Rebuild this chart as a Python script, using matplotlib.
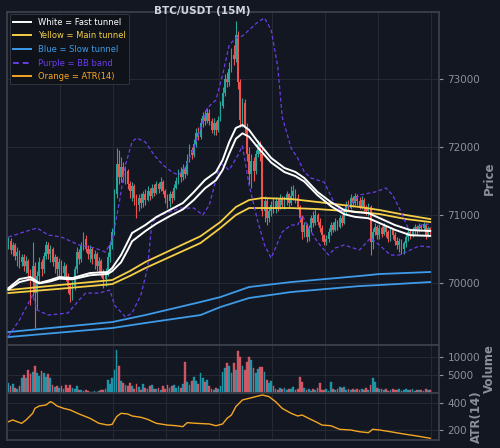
import numpy as np
import matplotlib
matplotlib.use("Agg")
import matplotlib.pyplot as plt
from matplotlib.lines import Line2D

# ---- candles (15M), open of first bar, then close / high / low
first_open = 70550
close = [
    70620, 70480, 70560, 70400, 70450, 70300, 70380, 70250, 70320, 70150,
    70050, 70250, 69850, 70100, 70300, 70200, 70400, 70550, 70420, 70500,
    70300, 70380, 70200, 70300, 70150, 70250, 70100, 69950, 69820, 69950,
    70200, 70450, 70350, 70550, 70650, 70500, 70420, 70500, 70350, 70420,
    70250, 70320, 70150, 70050, 70150, 70380, 70550, 70750, 71300, 71750,
    71550, 71700, 71550, 71650, 71450, 71350, 71420, 71250, 71150, 71250,
    71180, 71300, 71220, 71350, 71280, 71400, 71320, 71450, 71380, 71480,
    71350, 71250, 71200, 71300, 71250, 71400, 71500, 71620, 71550, 71680,
    71600, 71800, 71950, 71880, 72050, 72200, 72150, 72350, 72450, 72380,
    72500, 72380, 72250, 72350, 72250, 72400, 72600, 72800, 73000, 72950,
    73150, 73350, 73300, 73650, 72950, 72400, 72650, 72300, 71900, 71600,
    71800, 71650, 71900, 72050, 71900, 71050, 71200, 70950, 71050, 71150,
    71080, 71200, 71120, 71250, 71150, 71220, 71300, 71180, 71280, 71350,
    71250, 71120, 70950, 70750, 70850, 70680, 70800, 70950, 70880, 71000,
    70900, 70800, 70700, 70600, 70650, 70750, 70850, 70780, 70900, 70820,
    70950, 70880, 71050, 71150, 71100, 71250, 71180, 71270, 71200, 71120,
    71220, 71100, 71050, 71120, 70600, 70750, 70820, 70700, 70800, 70720,
    70830, 70750, 70650, 70780, 70700, 70620, 70560, 70620, 70500, 70580,
    70680, 70750, 70700, 70780, 70820, 70760, 70840, 70800, 70860, 70700,
    70800, 70740]
high = [
    70680, 70660, 70600, 70580, 70520, 70480, 70430, 70420, 70400, 70350,
    70200, 70600, 70300, 70180, 70380, 70350, 70450, 70620, 70600, 70560,
    70520, 70420, 70400, 70360, 70330, 70300, 70280, 70150, 70000, 70020,
    70250, 70520, 70500, 70600, 70740, 70700, 70560, 70560, 70520, 70480,
    70450, 70380, 70350, 70200, 70220, 70450, 70620, 70800, 71380, 71980,
    71950, 71850, 71780, 71720, 71680, 71500, 71480, 71450, 71300, 71300,
    71320, 71350, 71380, 71420, 71400, 71450, 71460, 71500, 71480, 71560,
    71520, 71380, 71300, 71350, 71350, 71450, 71560, 71680, 71700, 71750,
    71720, 71900, 72050, 72000, 72120, 72280, 72300, 72420, 72520, 72550,
    72580, 72560, 72420, 72420, 72380, 72450, 72680, 72880, 73080, 73100,
    73250, 73450, 73500, 73850, 73700, 73000, 72720, 72700, 72350, 72000,
    71900, 71850, 71950, 72100, 72080, 71980, 71280, 71250, 71120, 71200,
    71250, 71260, 71250, 71300, 71280, 71280, 71350, 71320, 71420, 71440,
    71380, 71300, 71150, 71000, 70900, 70880, 70850, 71000, 71050, 71080,
    71020, 70950, 70850, 70720, 70700, 70800, 70900, 70900, 70950, 70930,
    71000, 71000, 71100, 71200, 71220, 71300, 71280, 71320, 71300, 71260,
    71280, 71250, 71150, 71180, 71150, 70800, 70880, 70850, 70860, 70830,
    70880, 70850, 70780, 70820, 70800, 70750, 70680, 70660, 70640, 70620,
    70720, 70800, 70790, 70820, 70870, 70850, 70880, 70870, 70900, 70880,
    70840, 70820]
low = [
    70500, 70420, 70400, 70330, 70250, 70220, 70250, 70180, 70150, 70050,
    69670, 69800, 69330, 69600, 70000, 70100, 70150, 70350, 70350, 70300,
    70250, 70150, 70100, 70080, 70080, 70050, 70020, 69850, 69720, 69750,
    69900, 70150, 70280, 70300, 70480, 70450, 70350, 70300, 70280, 70200,
    70180, 70150, 70080, 69920, 69950, 70100, 70300, 70500, 70700, 71250,
    71450, 71480, 71480, 71450, 71380, 71250, 71200, 71150, 70950, 71050,
    71100, 71120, 71150, 71200, 71220, 71250, 71280, 71300, 71320, 71350,
    71300, 71180, 71100, 71120, 71180, 71220, 71380, 71450, 71480, 71520,
    71540, 71580, 71780, 71820, 71850, 72000, 72100, 72120, 72300, 72320,
    72350, 72320, 72200, 72180, 72180, 72220, 72380, 72580, 72750, 72880,
    72900, 73100, 73200, 73250, 72850, 72300, 72300, 72200, 71800, 71450,
    71400, 71500, 71600, 71850, 71800, 70980, 70900, 70850, 70900, 70980,
    71020, 71030, 71050, 71080, 71100, 71080, 71150, 71120, 71150, 71220,
    71180, 71080, 70900, 70650, 70680, 70600, 70620, 70750, 70820, 70850,
    70850, 70750, 70620, 70550, 70560, 70600, 70700, 70740, 70760, 70780,
    70800, 70830, 70860, 71000, 71050, 71080, 71120, 71150, 71150, 71080,
    71080, 71050, 71000, 70980, 70410, 70500, 70700, 70650, 70650, 70680,
    70700, 70680, 70600, 70620, 70650, 70560, 70500, 70450, 70420, 70430,
    70520, 70620, 70650, 70680, 70720, 70720, 70740, 70760, 70770, 70650,
    70680, 70700]
volume = [
    2800, 1800, 2400, 1500, 1200, 2000,
    4200, 5000, 4000, 6400, 5200, 5800, 7300, 5600, 4800,
    6100, 5400, 4500, 5200, 4000,
    2300, 1600, 2000, 1400, 1800, 1200, 2100, 1500, 2200, 1300, 1000, 2000, 900,
    800, 600, 900, 500, 400, 300, 500, 400, 600, 700, 900, 1200,
    3600, 2500, 4000, 6400, 11800, 7300, 3300, 2800, 2300,
    1800, 2800, 2000, 1200, 2500, 1600, 900, 2400, 1500, 1000, 1800, 2200, 1200,
    1000, 1500, 900, 1800, 1200, 2200, 1400, 1900, 2300, 1300, 2000, 1500, 2600,
    8600, 3000, 2300, 3200, 4500, 3400, 2600, 5500, 4200, 3000, 3600,
    1800, 1200, 900, 1500, 1000, 1800,
    5900, 6800, 8200, 7400, 5600, 8200, 6400, 11600, 9800, 7300, 6200, 8400,
    10000, 9200, 6800, 5500, 6500, 7200, 7200, 5800, 3600, 2800, 3200,
    1800, 1200, 900, 1500, 1000, 1400, 800, 1200, 1000, 1600, 700, 1100,
    4300, 3000, 1400, 800, 1200, 600, 1000, 800, 1300, 2800, 900, 700, 1100, 600, 3000,
    1000, 800, 1200, 1600, 1400, 1700, 900, 1000, 700, 1200, 800, 1100, 900, 1000, 700, 1300, 900, 2200,
    4200, 3000, 1500, 1200, 1000, 900, 1200, 600, 800, 1100, 700, 900, 1000, 600,
    800, 1200, 700, 900, 1000, 600, 800, 700, 900, 600, 1000, 800, 700]

# ---- indicator readings (bar index -> value)
fast_idx = [0, 5, 10, 14, 19, 23, 29, 37, 45, 47, 51, 54, 56, 62, 67, 73, 79, 84, 89,
            94, 97, 100, 103, 106, 109, 113, 116, 119, 125, 130, 134, 140, 146, 152,
            157, 163, 168, 175, 182, 191]
fast_hi = [69920, 70054, 70084, 69996, 70040, 70084, 70069, 70143, 70158, 70217, 70408,
           70600, 70732, 70850, 70968, 71071, 71174, 71336, 71513, 71631, 71807, 72073,
           72279, 72323, 72250, 72073, 71955, 71837, 71690, 71631, 71542, 71336, 71189,
           71071, 71041, 71026, 70953, 70850, 70776, 70762]
fast_lo = [69900, 70010, 70050, 69990, 70020, 70060, 70050, 70110, 70130, 70170, 70300,
           70480, 70610, 70760, 70870, 70980, 71080, 71220, 71390, 71510, 71660, 71900,
           72120, 72200, 72150, 71990, 71880, 71770, 71630, 71570, 71490, 71290, 71130,
           71010, 70970, 70950, 70880, 70780, 70700, 70690]

main_idx = [0, 23, 47, 55, 62, 87, 96, 103, 109, 115, 128, 140, 159, 168, 180, 191]
main_hi = [69892, 69966, 70040, 70172, 70305, 70685, 70894, 71115, 71218, 71248, 71233,
           71189, 71115, 71071, 70997, 70938]
main_lo = [69848, 69910, 69980, 70100, 70216, 70585, 70806, 70997, 71100, 71100, 71100,
           71085, 71041, 71012, 70938, 70894]

slow_idx = [0, 47, 62, 87, 96, 109, 128, 159, 168, 191]
slow_hi = [69274, 69421, 69524, 69716, 69789, 69937, 70010, 70099, 70128, 70158]
slow_lo = [69200, 69333, 69407, 69524, 69642, 69775, 69863, 69951, 69966, 70010]

bbu_idx = [0, 7, 13, 18, 24, 32, 39, 44, 47, 50, 53, 56, 58, 62, 66, 70, 74, 77, 80, 84,
           88, 90, 94, 97, 100, 103, 106, 110, 113, 116, 119, 122, 124, 127, 128, 131,
           134, 137, 143, 148, 151, 156, 159, 166, 171, 174, 177, 181, 184, 187, 191]
bb_upper = [70673, 70747, 70806, 70703, 70673, 70556, 70512, 70452, 70629, 71145, 71734,
            72073, 72131, 72073, 71881, 71734, 71631, 71587, 71690, 71985, 72367, 72573,
            72691, 73059, 73501, 73604, 73634, 73752, 73840, 73899, 73722, 73177, 72440,
            72102, 71984, 71837, 71631, 71542, 71483, 71145, 71041, 71189, 71292, 71336,
            71395, 71292, 71100, 70806, 70747, 70850, 70865]
bbl_idx = [0, 5, 11, 13, 18, 27, 32, 35, 41, 46, 48, 53, 56, 60, 63, 65, 69, 78, 84, 88,
           91, 96, 100, 104, 106, 109, 113, 116, 119, 124, 128, 131, 133, 136, 140, 145,
           148, 152, 159, 164, 168, 173, 177, 182, 186, 191]
bb_lower = [69212, 69451, 69819, 69598, 69524, 69554, 69745, 69848, 69848, 69892, 69672,
            69495, 69554, 69819, 70216, 70894, 70997, 71100, 71100, 70997, 71145, 71763,
            71660, 71881, 72014, 71439, 70894, 70555, 70364, 70747, 70850, 70850, 70997,
            70806, 70600, 70408, 70511, 70555, 70482, 70658, 70555, 70408, 70408, 70482,
            70541, 70526]

atr_idx = [0, 2, 4, 6, 8, 11, 12, 14, 17, 19, 20, 22, 25, 28, 32, 37, 41, 45, 47, 49, 51,
           54, 56, 60, 63, 67, 72, 76, 79, 81, 85, 91, 94, 97, 99, 101, 103, 106, 109, 112,
           115, 118, 121, 124, 128, 131, 133, 136, 140, 142, 146, 150, 155, 159, 163, 165,
           168, 173, 179, 185, 191]
atr = [262, 275, 262, 250, 275, 325, 362, 380, 387, 412, 405, 380, 362, 350, 320, 287,
       250, 237, 242, 300, 325, 320, 305, 295, 280, 250, 237, 232, 225, 255, 250, 245,
       232, 245, 287, 312, 375, 425, 437, 450, 462, 450, 412, 362, 325, 305, 312, 287,
       255, 237, 232, 205, 200, 187, 180, 205, 200, 187, 170, 155, 138]

BG = '#131722'
UP, DOWN = '#26a69a', '#ef5350'
GRID = '#262a35'
SPINE = '#3b3f4a'
TXT = '#8b8f99'

fig = plt.figure(figsize=(5.0, 4.48), dpi=100, facecolor=BG)
L, W = 7.3 / 500, 431.7 / 500
ax = fig.add_axes([L, 103 / 448, W, 333 / 448])
axv = fig.add_axes([L, 55 / 448, W, 48 / 448], sharex=ax)
axa = fig.add_axes([L, 8 / 448, W, 47 / 448], sharex=ax)

n = len(close)
x = np.arange(n)
opens = np.array([first_open] + close[:-1])
c = np.array(close)
up = c >= opens
cols = np.where(up, UP, DOWN)

# candles
ax.vlines(x, low, high, colors=cols, lw=0.8, zorder=2)
ax.bar(x, np.maximum(np.abs(c - opens), 8), bottom=np.minimum(c, opens),
       width=0.8, color=cols, linewidth=0, zorder=3)

# tunnels / bands
ax.plot(slow_idx, slow_hi, color='#3d9be9', lw=1.3, zorder=4)
ax.plot(slow_idx, slow_lo, color='#3d9be9', lw=1.3, zorder=4)
ax.plot(main_idx, main_hi, color='#f5cf45', lw=1.3, zorder=4)
ax.plot(main_idx, main_lo, color='#f5cf45', lw=1.3, zorder=4)
ax.plot(fast_idx, fast_hi, color='white', lw=1.4, zorder=5)
ax.plot(fast_idx, fast_lo, color='white', lw=1.4, zorder=5)
ax.plot(bbu_idx, bb_upper, color='#6a3de8', lw=0.9, ls=(0, (3, 2)), zorder=4)
ax.plot(bbl_idx, bb_lower, color='#6a3de8', lw=0.9, ls=(0, (3, 2)), zorder=4)

# volume
vcols = np.where(up, '#1f9fb4', '#e05c6a')
axv.bar(x, volume, width=0.8, color=vcols, edgecolor=vcols, linewidth=0.3, alpha=0.9)

# ATR
axa.plot(atr_idx, atr, color='#f5a623', lw=1.0)

ax.set_xlim(-0.5, 195)
ax.set_ylim(69083, 73987)
axv.set_ylim(0, 13200)
axa.set_ylim(125, 477)
ax.set_yticks([70000, 71000, 72000, 73000])
axv.set_yticks([5000, 10000])
axa.set_yticks([200, 400])
ax.set_xticks(np.arange(1, 9) * 24 - 0.6)

for a, lab in ((ax, 'Price'), (axv, 'Volume'), (axa, 'ATR(14)')):
    a.set_facecolor(BG)
    a.grid(True, color=GRID, lw=0.7)
    a.set_axisbelow(True)
    for s in a.spines.values():
        s.set_color(SPINE)
        s.set_linewidth(1.3)
    a.yaxis.tick_right()
    a.yaxis.set_label_position('right')
    a.tick_params(axis='y', colors=TXT, labelsize=7.5, length=3, width=0.8, pad=3)
    a.tick_params(axis='x', length=0, labelbottom=False)
    a.set_ylabel(lab, color=TXT, fontsize=8.5, fontweight='bold', labelpad=2)

fig.text(202 / 500, 1 - 11 / 448, 'BTC/USDT (15M)', color='#d1d4dc', fontsize=7.5,
         fontweight='bold', ha='center', va='center')

handles = [
    Line2D([], [], color='white', lw=1.4),
    Line2D([], [], color='#f5cf45', lw=1.4),
    Line2D([], [], color='#3d9be9', lw=1.4),
    Line2D([], [], color='#6a3de8', lw=1.4, ls=(0, (3, 2))),
    Line2D([], [], color='#f5a623', lw=1.4),
]
labels = ['White = Fast tunnel', 'Yellow = Main tunnel', 'Blue = Slow tunnel',
          'Purple = BB band', 'Orange = ATR(14)']
leg = ax.legend(handles, labels, loc='upper left', fontsize=6, frameon=True,
                facecolor='#0f1219', edgecolor=SPINE, framealpha=0.9,
                handlelength=2.2, borderaxespad=0.3, labelspacing=0.55)
for t, h in zip(leg.get_texts(), handles):
    t.set_color(h.get_color())
leg.get_frame().set_linewidth(0.6)

fig.savefig('out.png', dpi=100, facecolor=BG)
